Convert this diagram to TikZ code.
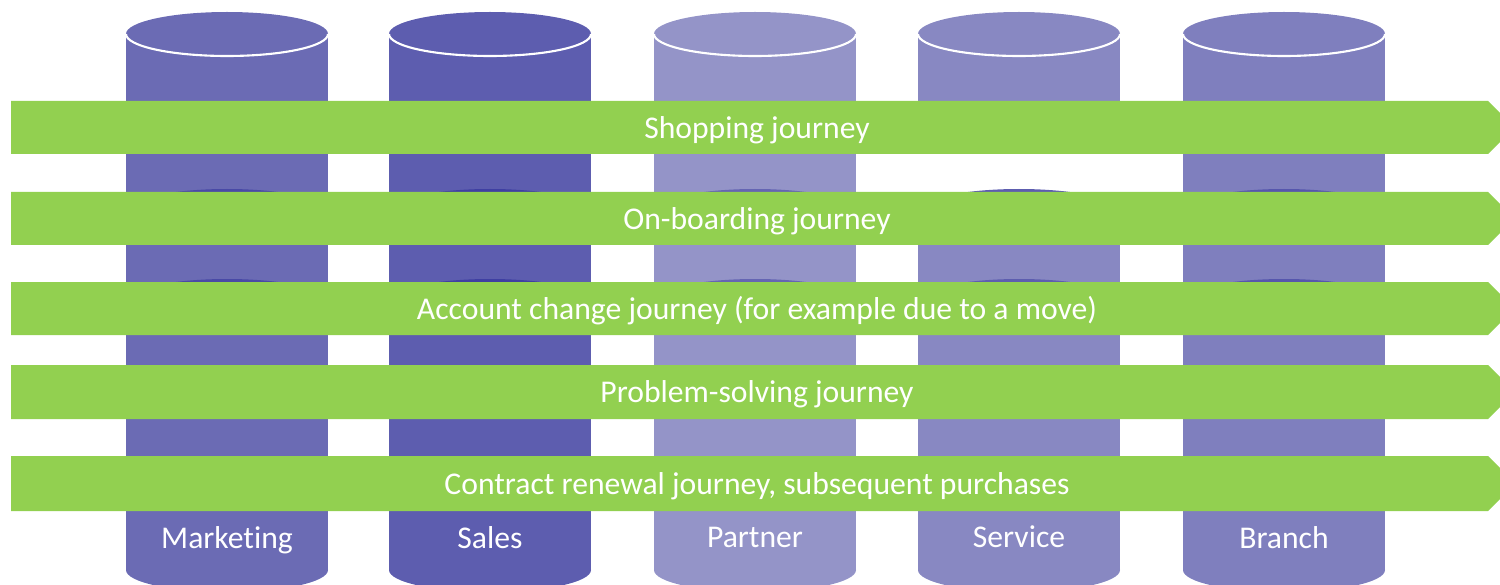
\documentclass[tikz,border=0pt]{standalone}
\usepackage{fontspec}
\setmainfont{Carlito}[Ligatures=NoCommon]
\definecolor{mktblue}{RGB}{107,107,180}
\definecolor{salesblue}{RGB}{93,93,175}
\definecolor{partnerblue}{RGB}{148,148,200}
\definecolor{serviceblue}{RGB}{136,136,194}
\definecolor{branchblue}{RGB}{127,127,190}
\definecolor{journeygreen}{RGB}{146,208,80}
\tikzset{
	journey/.style={text=white, inner sep=0pt, font=\fontsize{9}{11}\selectfont},
	colname/.style={text=white, inner sep=0pt, anchor=base, font=\fontsize{9}{11}\selectfont},
	rim/.style={white, line width=0.6pt}
}
\begin{document}
\begin{tikzpicture}[x=0.01cm,y=-0.01cm]
	\useasboundingbox (0,0) rectangle (1500,585);
	\clip (0,0) rectangle (1500,585);
	% channel cylinders
	\foreach \cx/\col in {227/mktblue,490/salesblue,755/partnerblue,1284/branchblue}{
		\fill[\col] (\cx-101,34) rectangle (\cx+101,570);
		\fill[\col] (\cx,570) ellipse [x radius=101,y radius=22];
		\fill[\col] (\cx,34) ellipse [x radius=101,y radius=22];
		\draw[rim] (\cx-101,34) arc[start angle=180,end angle=0,x radius=101,y radius=22];
	}
	% service is cut below the first journey
	\fill[serviceblue] (918,34) rectangle (1120,150);
	\fill[serviceblue] (1019,34) ellipse [x radius=101,y radius=22];
	\draw[rim] (918,34) arc[start angle=180,end angle=0,x radius=101,y radius=22];
	\fill[serviceblue] (918,211) rectangle (1120,570);
	\fill[serviceblue] (1019,570) ellipse [x radius=101,y radius=22];
	% tops of the lower segments
	\foreach \cx/\col in {227/mktblue,490/salesblue,755/partnerblue,1019/serviceblue,1284/branchblue}{
		\fill[\col!80!blue!85!black] (\cx,211) ellipse [x radius=101,y radius=22];
		\fill[\col!80!blue!85!black] (\cx,301) ellipse [x radius=101,y radius=22];
	}
	% journeys
	\foreach \top/\bot in {101/154,192/245,282/335,365/419,456/511}{
		\fill[journeygreen] (11,\top) -- (1488,\top) -- (1488+0.5*\bot-0.5*\top,0.5*\top+0.5*\bot)
			-- (1488,\bot) -- (11,\bot) -- cycle;
	}
	\node[journey] (shop) at (757,130) {Shopping journey};
	\node[journey] (onboard) at (757,221) {On-boarding journey};
	\node[journey] (change) at (757,311) {Account change journey (for example due to a move)};
	\node[journey] (problem) at (757,394.5) {Problem-solving journey};
	\node[journey] (renew) at (757,486) {Contract renewal journey, subsequent purchases};
	% channel names
	\node[colname] (mkt) at (227,548) {Marketing};
	\node[colname] (sales) at (490,548) {Sales};
	\node[colname] (partner) at (755,547) {Partner};
	\node[colname] (service) at (1019,547) {Service};
	\node[colname] (branch) at (1284,548) {Branch};
\end{tikzpicture}
\end{document}
